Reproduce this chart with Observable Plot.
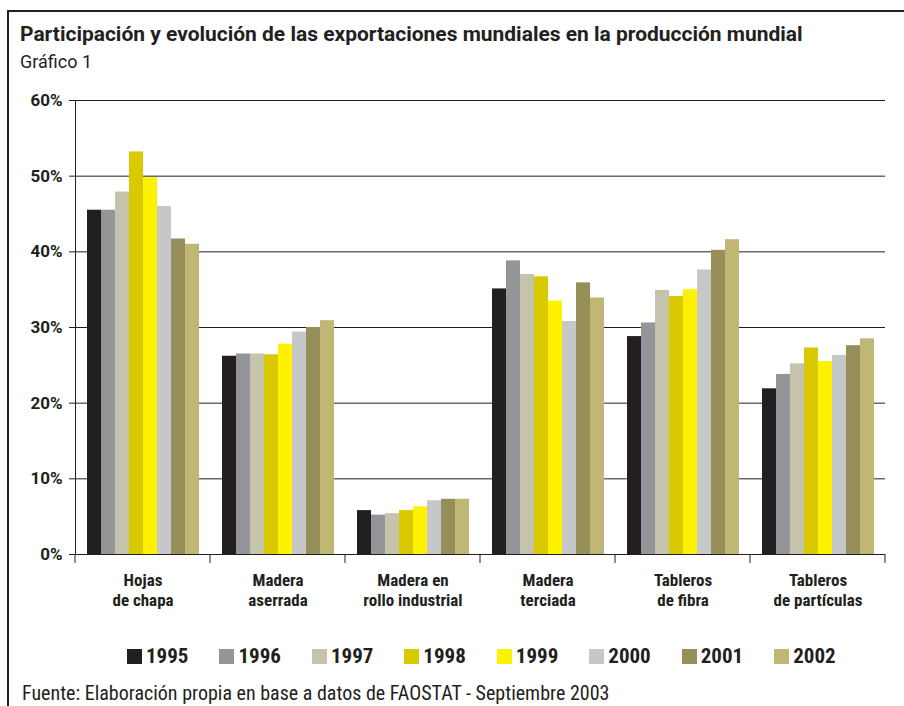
<!DOCTYPE html>
<html><head><meta charset="utf-8">
<script src="https://cdn.jsdelivr.net/npm/d3@7"></script>
<script src="https://cdn.jsdelivr.net/npm/@observablehq/plot@0.6"></script>
<style>
html,body{margin:0;padding:0;background:#fff;}
#wrap{position:relative;width:904px;height:706px;overflow:hidden;color:#231f20;
  font-family:"Liberation Sans Narrow","Roboto Condensed","Liberation Sans",sans-serif;}
#frame{position:absolute;left:7px;top:10px;width:900px;height:720px;border-left:2px solid #231f20;border-top:2px solid #231f20;box-sizing:border-box;}
#chart{position:absolute;left:0;top:0;}
.txt{position:absolute;white-space:nowrap;line-height:1;}
#title{left:20px;top:23.5px;font-weight:bold;font-size:20.8px;font-family:Roboto,"Liberation Sans",sans-serif;}
#subtitle{left:20px;top:52.6px;font-size:18px;font-family:Roboto,"Liberation Sans",sans-serif;}
#footer{left:22px;top:683px;font-size:20px;}
#legend{position:absolute;left:127px;top:646px;}
.lg-swatches{margin:0 !important;font-family:"Liberation Sans Narrow","Roboto Condensed","Liberation Sans",sans-serif !important;font-size:21px !important;font-weight:bold;color:#231f20;min-height:0 !important;line-height:1;}
.lg-swatch{margin-right:31px !important;}
.lg-swatch > svg{margin-right:4px !important;}
</style>
</head><body>
<div id="wrap">
  <div id="frame"></div>
  <div id="chart"></div>
  <div id="title" class="txt">Participación y evolución de las exportaciones mundiales en la producción mundial</div>
  <div id="subtitle" class="txt">Gráfico 1</div>
  <div id="legend"></div>
  <div id="footer" class="txt">Fuente: Elaboración propia en base a datos de FAOSTAT - Septiembre 2003</div>
</div>
<script>
const categories = ["Hojas de chapa", "Madera aserrada", "Madera en rollo industrial", "Madera terciada", "Tableros de fibra", "Tableros de partículas"];
const categoryLabels = ["Hojas\nde chapa", "Madera\naserrada", "Madera en\nrollo industrial", "Madera\nterciada", "Tableros\nde fibra", "Tableros\nde partículas"];
const years = ["1995", "1996", "1997", "1998", "1999", "2000", "2001", "2002"];
const yearColors = ["#231f20", "#939598", "#c5c3ac", "#d9c900", "#fff200", "#c6c7c9", "#968f5a", "#c1b775"];
const v1995 = [45.5, 26.2, 5.8, 35.1, 28.8, 21.9];
const v1996 = [45.5, 26.5, 5.2, 38.8, 30.6, 23.8];
const v1997 = [47.9, 26.5, 5.4, 37.0, 34.9, 25.2];
const v1998 = [53.2, 26.4, 5.8, 36.7, 34.1, 27.3];
const v1999 = [49.8, 27.8, 6.3, 33.5, 35.0, 25.5];
const v2000 = [46.0, 29.4, 7.1, 30.8, 37.6, 26.3];
const v2001 = [41.7, 30.0, 7.3, 35.9, 40.2, 27.6];
const v2002 = [41.0, 30.9, 7.3, 33.9, 41.6, 28.5];
const yTicks = [0, 10, 20, 30, 40, 50, 60];

const series = [v1995, v1996, v1997, v1998, v1999, v2000, v2001, v2002];
const data = [];
years.forEach((yr, i) => categories.forEach((c, j) => data.push({category: c, year: yr, value: series[i][j]})));
const labelOf = new Map(categories.map((c, i) => [c, categoryLabels[i]]));
const ink = "#231f20";
const condensed = '"Liberation Sans Narrow","Roboto Condensed","Liberation Sans",sans-serif';

const plot = Plot.plot({
  width: 904,
  height: 615,
  marginLeft: 72,
  marginRight: 17,
  marginTop: 100,
  marginBottom: 61,
  style: {fontFamily: condensed, fontSize: "17px", fontWeight: "bold", color: ink, background: "transparent"},
  fx: {domain: categories, padding: 0},
  x: {domain: years, paddingInner: 0, paddingOuter: 0.68},
  y: {domain: [0, 60]},
  color: {domain: years, range: yearColors},
  marks: [
    Plot.gridY(yTicks, {stroke: ink, strokeOpacity: 1, strokeWidth: 1}),
    Plot.barY(data, {fx: "category", x: "year", y: "value", fill: "year", inset: 0}),
    Plot.frame({anchor: "left", facetAnchor: "left", stroke: ink}),
    Plot.axisY({ticks: yTicks, tickSize: 6, tickPadding: 7, tickFormat: d => `${d}%`, label: null, stroke: ink,
                fontFamily: 'Roboto,"Liberation Sans",sans-serif', fontSize: 17}),
    Plot.axisX({ticks: [], label: null, tickSize: 0}),
    Plot.axisFx({anchor: "bottom", tickSize: 0, tickPadding: 17.9, lineHeight: 1.15, label: null, tickFormat: d => labelOf.get(d)})
  ]
});
document.getElementById("chart").appendChild(plot);

// category boundary ticks below the baseline, positioned with Plot's own fx and y scales
const fxs = plot.scale("fx");
const ys = plot.scale("y");
const y0 = ys.apply(0);
const bounds = categories.map(c => fxs.apply(c));
bounds.push(fxs.apply(categories[categories.length - 1]) + fxs.bandwidth);
d3.select(plot).append("g").attr("aria-label", "category ticks")
  .selectAll("line").data(bounds).join("line")
  .attr("x1", d => d).attr("x2", d => d)
  .attr("y1", y0).attr("y2", y0 + 9)
  .attr("stroke", ink);

const legend = Plot.legend({color: {domain: years, range: yearColors}, legend: "swatches", swatchSize: 15, className: "lg"});
document.getElementById("legend").appendChild(legend);

// fit the title to the reference width
const title = document.getElementById("title");
const tw = title.getBoundingClientRect().width;
if (tw > 0) title.style.fontSize = (20.8 * 783 / tw).toFixed(2) + "px";
</script>
</body></html>
